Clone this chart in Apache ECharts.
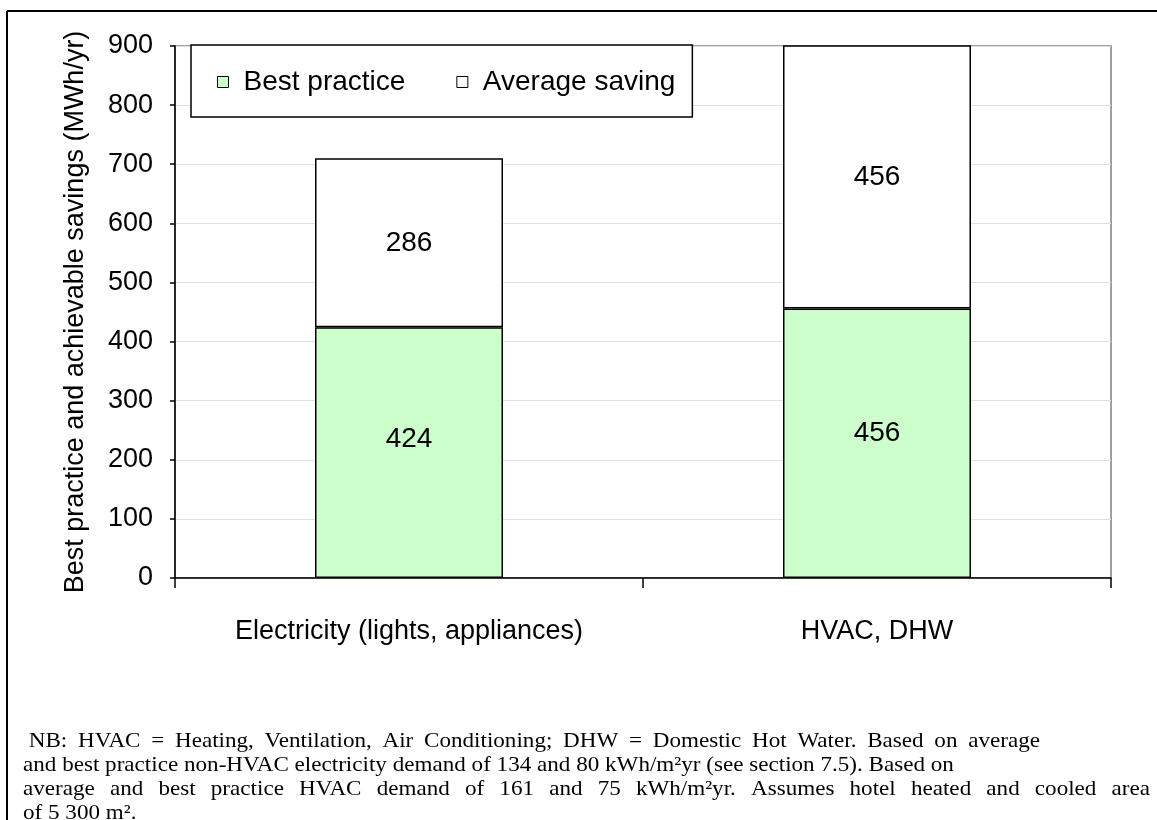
<!DOCTYPE html>
<html>
<head>
<meta charset="utf-8">
<style>
  html, body { margin: 0; padding: 0; background: #fff; }
  #chart { width: 1157px; height: 820px; }
</style>
<script src="https://cdn.jsdelivr.net/npm/echarts@6/dist/echarts.min.js"></script>
</head>
<body>
<div id="chart"></div>
<script>
// Savings per end use (MWh/yr)
const categories = ['Electricity (lights, appliances)', 'HVAC, DHW'];
const bestPractice = [424, 456];
const averageSaving = [286, 456];
const seriesNames = ['Best practice', 'Average saving'];

// Value axis range
const yMin = 0;
const yMax = 900;
const yStep = 100;

const yTitle = 'Best practice and achievable savings (MWh/yr)';

const footnoteLines = [
  ' NB: HVAC = Heating, Ventilation, Air Conditioning; DHW = Domestic Hot Water. Based on average',
  'and best practice non-HVAC electricity demand of 134 and 80 kWh/m\u00B2yr (see section 7.5). Based on',
  'average and best practice HVAC demand of 161 and 75 kWh/m\u00B2yr. Assumes hotel heated and cooled area',
  'of 5 300 m\u00B2.'
];

const SANS = '"Liberation Sans", Arial, sans-serif';
const SERIF = '"Liberation Serif", "Times New Roman", serif';
const FOOT_FONT = '21px ' + SERIF;

// footnote layout: serif text set slightly wide; some lines are spread
// out to a right edge, the others stay ragged
const footStretch = 1.1;
const footLeft = 23;
const footTop = 731;
const footLineGap = 24;
const footRightEdge = [1040, null, 1150, null];

// small vertical nudges for the lower segment labels
const lowerLabelNudge = [-13, -10];

const measureCtx = document.createElement('canvas').getContext('2d');
measureCtx.font = FOOT_FONT;
const measure = s => measureCtx.measureText(s).width * footStretch;

function footnoteLine(text, idx) {
  const top = footTop + idx * footLineGap;
  const lead = text.length - text.replace(/^\s+/, '').length;
  const startX = footLeft + measure(' '.repeat(lead));
  const body = text.trim();
  const makeText = (s, x) => ({
    type: 'text', x: x, y: top, scaleX: footStretch,
    style: { text: s, fill: '#000', font: FOOT_FONT, verticalAlign: 'top' }
  });
  const right = footRightEdge[idx];
  if (right == null) {
    return [makeText(body, startX)];
  }
  const words = body.split(' ');
  const widths = words.map(measure);
  const total = widths.reduce((a, b) => a + b, 0);
  const gap = (right - startX - total) / (words.length - 1);
  const out = [];
  let x = startX;
  words.forEach((w, k) => {
    out.push(makeText(w, x));
    x += widths[k] + gap;
  });
  return out;
}

const footnoteGraphics = [];
footnoteLines.forEach((line, i) => {
  footnoteLine(line, i).forEach(g => footnoteGraphics.push(g));
});

const chart = echarts.init(document.getElementById('chart'), null, { renderer: 'canvas' });

const labelBase = {
  show: true,
  position: 'inside',
  color: '#000',
  fontFamily: SANS,
  fontSize: 28
};

chart.setOption({
  animation: false,
  backgroundColor: '#fff',
  grid: {
    left: 175,
    right: 46,
    top: 46,
    bottom: 242,
    show: true,
    borderColor: '#a0a0a0',
    borderWidth: 2,
    backgroundColor: 'transparent'
  },
  legend: {
    left: 191,
    top: 45,
    orient: 'horizontal',
    backgroundColor: '#fff',
    borderColor: '#000',
    borderWidth: 1.5,
    borderRadius: 0,
    padding: [23, 17, 21, 26],
    itemWidth: 11,
    itemHeight: 11,
    itemGap: 51,
    icon: 'rect',
    itemStyle: { borderColor: '#000', borderWidth: 1 },
    textStyle: {
      color: '#000',
      fontFamily: SANS,
      fontSize: 28,
      padding: [0, 0, 0, 10]
    },
    data: seriesNames
  },
  xAxis: {
    type: 'category',
    data: categories,
    axisLine: { show: true, lineStyle: { color: '#000', width: 1.5 } },
    axisTick: { show: true, inside: false, length: 10, lineStyle: { color: '#000', width: 1.5 } },
    axisLabel: {
      color: '#000',
      fontFamily: SANS,
      fontSize: 27,
      margin: 40
    },
    splitLine: { show: false }
  },
  yAxis: {
    type: 'value',
    min: yMin,
    max: yMax,
    interval: yStep,
    axisLine: { show: true, lineStyle: { color: '#000', width: 1.5 } },
    axisTick: { show: true, inside: false, length: 5, lineStyle: { color: '#000', width: 1.5 } },
    axisLabel: {
      color: '#000',
      fontFamily: SANS,
      fontSize: 27,
      margin: 22
    },
    splitLine: { show: true, lineStyle: { color: '#e0e0e0', width: 1 } }
  },
  series: [
    {
      name: seriesNames[0],
      type: 'bar',
      stack: 'savings',
      barWidth: 188,
      clip: true,
      data: bestPractice.map((v, i) => ({
        value: v,
        label: { offset: [0, lowerLabelNudge[i]] }
      })),
      itemStyle: { color: '#ccffcc', borderColor: '#000', borderWidth: 1.5 },
      label: labelBase
    },
    {
      name: seriesNames[1],
      type: 'bar',
      stack: 'savings',
      barWidth: 188,
      clip: true,
      data: averageSaving,
      itemStyle: { color: '#ffffff', borderColor: '#000', borderWidth: 1.5 },
      label: labelBase
    }
  ],
  graphic: [
    // frame lines along the top and left of the figure
    {
      type: 'line',
      shape: { x1: 7, y1: 11, x2: 1157, y2: 11 },
      style: { stroke: '#000', lineWidth: 2 },
      z: 100
    },
    {
      type: 'line',
      shape: { x1: 7, y1: 11, x2: 7, y2: 820 },
      style: { stroke: '#000', lineWidth: 2 },
      z: 100
    },
    // rotated value-axis title
    {
      type: 'text',
      x: 76,
      y: 312,
      rotation: Math.PI / 2,
      style: {
        text: yTitle,
        fill: '#000',
        font: '27px ' + SANS,
        align: 'center',
        verticalAlign: 'middle'
      },
      z: 100
    }
  ].concat(footnoteGraphics)
});
</script>
</body>
</html>
